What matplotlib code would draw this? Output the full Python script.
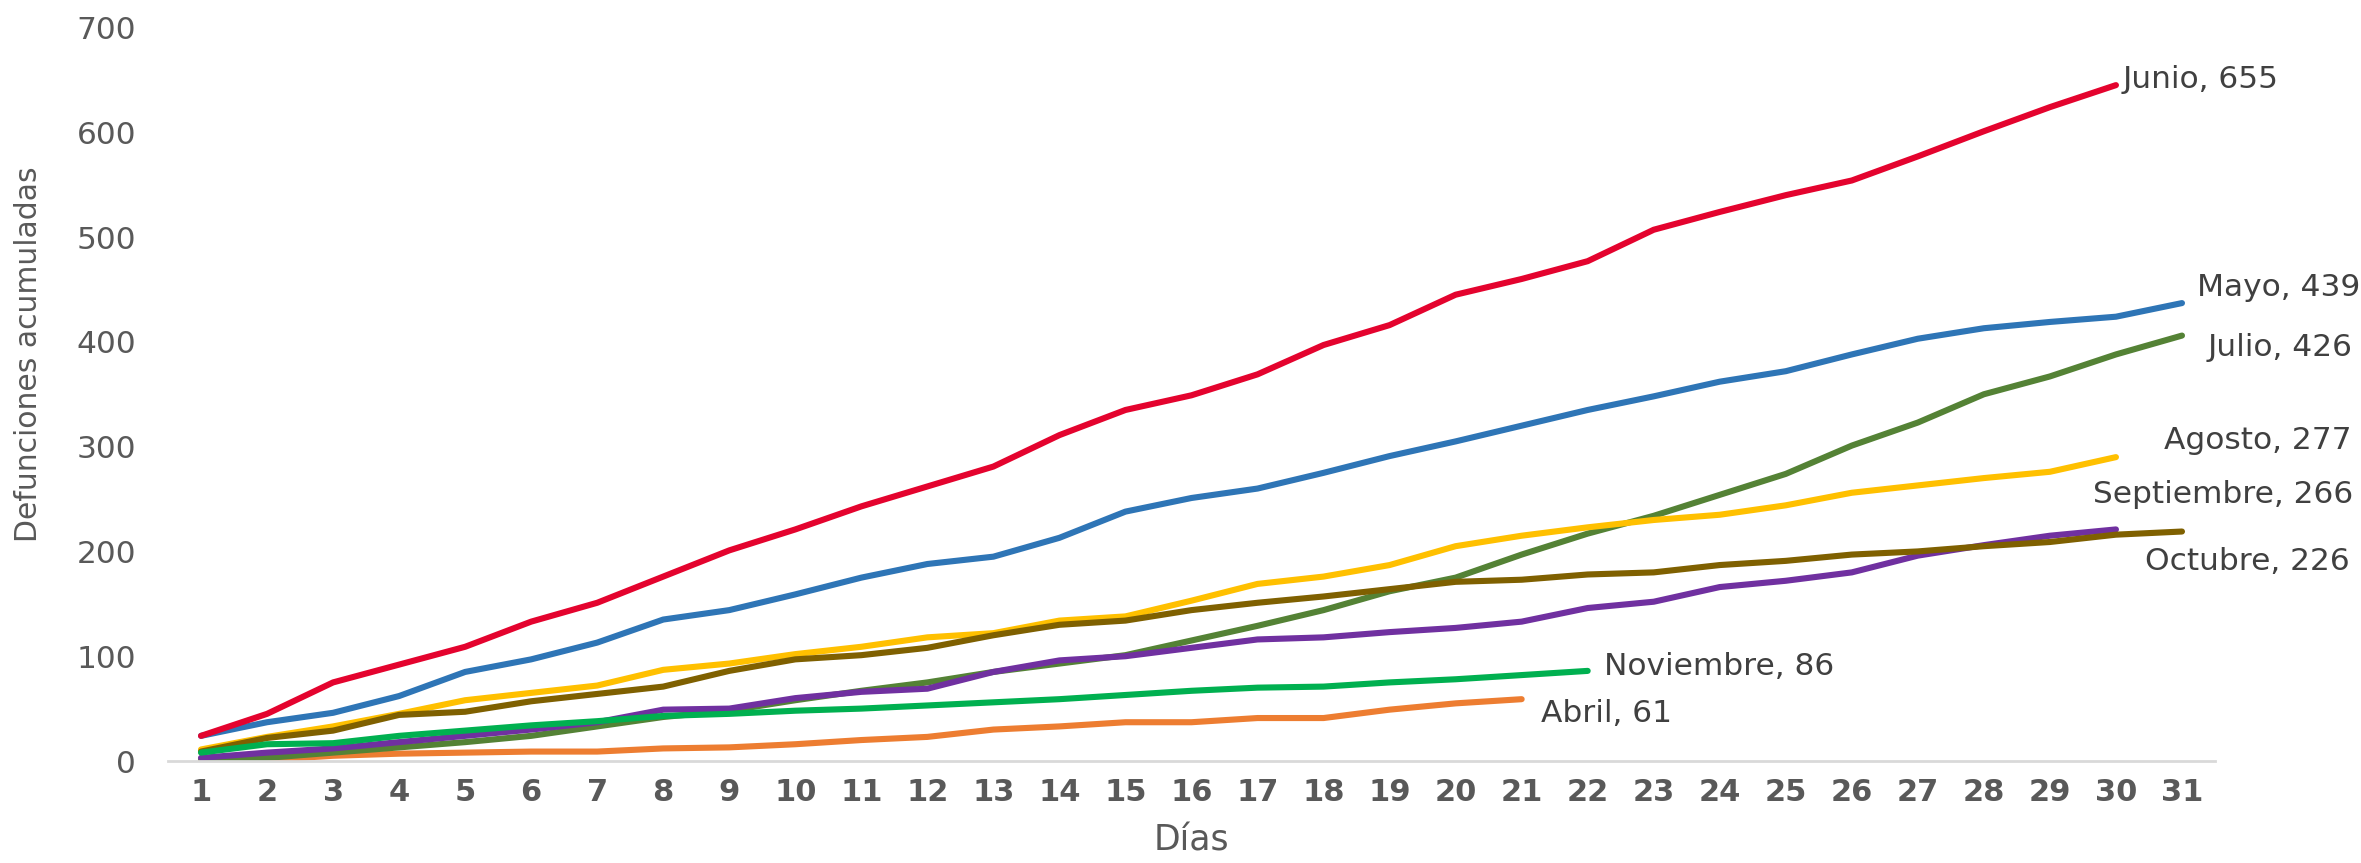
import matplotlib.pyplot as plt
import numpy as np

# ---------------- DATA ----------------
dias = list(range(1, 32))

abril = [0, 1, 5, 7, 8, 9, 9, 12, 13, 16, 20, 23, 30, 33, 37, 37, 41, 41, 49, 55, 59]
mayo = [24, 37, 46, 62, 85, 97, 113, 135, 144, 159, 175, 188, 195, 213, 238, 251,
        260, 275, 291, 305, 320, 335, 348, 362, 372, 388, 403, 413, 419, 424, 437]
junio = [24, 45, 75, 92, 109, 133, 151, 176, 201, 221, 243, 262, 281, 311, 335, 349,
         369, 397, 416, 445, 460, 477, 507, 524, 540, 554, 577, 601, 624, 645]
julio = [2, 3, 8, 13, 18, 24, 33, 42, 48, 58, 67, 75, 85, 93, 101, 115, 129, 144,
         162, 175, 197, 217, 234, 254, 274, 301, 323, 350, 367, 388, 406]
agosto = [11, 23, 33, 45, 58, 65, 72, 87, 93, 102, 109, 118, 122, 134, 138, 153,
          169, 176, 187, 205, 215, 223, 230, 235, 244, 256, 263, 270, 276, 290]
septiembre = [3, 8, 12, 18, 24, 30, 37, 49, 50, 60, 66, 69, 85, 96, 100, 108, 116,
              118, 123, 127, 133, 146, 152, 166, 172, 180, 196, 206, 215, 221]
octubre = [9, 22, 29, 44, 47, 57, 64, 71, 86, 97, 101, 108, 120, 130, 134, 144, 151,
           157, 164, 171, 173, 178, 180, 187, 191, 197, 200, 205, 209, 216, 219]
noviembre = [8, 16, 17, 24, 29, 34, 38, 43, 45, 48, 50, 53, 56, 59, 63, 67, 70, 71,
             75, 78, 82, 86]

series = [
    ("Abril", abril, "#ED7D31", "Abril, 61"),
    ("Mayo", mayo, "#2E75B6", "Mayo, 439"),
    ("Junio", junio, "#E4032E", "Junio, 655"),
    ("Julio", julio, "#548235", "Julio, 426"),
    ("Agosto", agosto, "#FFC000", "Agosto, 277"),
    ("Septiembre", septiembre, "#7030A0", "Septiembre, 266"),
    ("Octubre", octubre, "#7F6000", "Octubre, 226"),
    ("Noviembre", noviembre, "#00B050", "Noviembre, 86"),
]

# label anchor (day, value) for each series text
label_pos = {
    "Abril": (21.3, 45),
    "Mayo": (31.22, 452),
    "Junio": (30.1, 650),
    "Julio": (31.39, 395),
    "Agosto": (30.73, 306),
    "Septiembre": (29.65, 254),
    "Octubre": (30.44, 190),
    "Noviembre": (22.25, 90),
}

# ---------------- PLOT ----------------
gray = "#595959"
plt.rcParams["font.family"] = ["DejaVu Sans"]

fig = plt.figure(figsize=(23.61, 8.63), dpi=100)
ax = fig.add_axes([168 / 2361, 1 - 761 / 863, (2215 - 168) / 2361, (761 - 27.5) / 863])

for name, vals, color, text in series:
    ax.plot(dias[:len(vals)], vals, color=color, linewidth=4.4,
            solid_capstyle="round", solid_joinstyle="round")
    lx, ly = label_pos[name]
    ax.text(lx, ly, text, fontsize=22.5, color="#404040", ha="left", va="center",
            clip_on=False)

ax.set_xlim(0.5, 31.5)
ax.set_ylim(0, 700)
ax.set_xticks(dias)
ax.set_yticks(np.arange(0, 701, 100))

for s in ["top", "right", "left"]:
    ax.spines[s].set_visible(False)
ax.spines["bottom"].set_color("#D9D9D9")
ax.spines["bottom"].set_linewidth(2)

ax.tick_params(axis="both", length=0)
ax.tick_params(axis="y", labelsize=22.5, labelcolor=gray, pad=23)
ax.tick_params(axis="x", labelsize=22, labelcolor=gray, pad=12)
for lbl in ax.get_xticklabels():
    lbl.set_fontweight("bold")

ax.set_xlabel("Días", fontsize=25, color=gray)
ax.set_ylabel("Defunciones acumuladas", fontsize=21.5, color=gray)
ax.xaxis.set_label_coords(0.5, -0.085)
ax.yaxis.set_label_coords(-0.061, 0.555)

fig.savefig("out.png", dpi=100)
